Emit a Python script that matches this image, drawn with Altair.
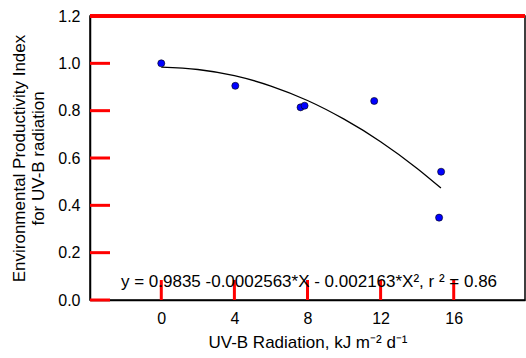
import altair as alt
import pandas as pd

uvb = [0.0, 4.05, 7.62, 7.84, 11.65, 15.31, 15.2]
epi = [1.0, 0.905, 0.814, 0.821, 0.841, 0.542, 0.348]
# fitted curve as it appears in the picture
curve_x = [0, 2, 4, 6, 8, 10, 12, 14, 15.3]
curve_y = [0.984, 0.974, 0.948, 0.904, 0.843, 0.764, 0.669, 0.556, 0.473]
x_ticks = [0, 4, 8, 12, 16]
y_ticks = [0.0, 0.2, 0.4, 0.6, 0.8, 1.0, 1.2]
equation = "y = 0.9835 -0.0002563*X - 0.002163*X\u00b2, r \u00b2 = 0.86"
x_title = "UV-B Radiation, kJ m\u207b\u00b2 d\u207b\u00b9"
y_title = ["Environmental Productivity Index", "for UV-B radiation"]

XDOM = [-3.9, 19.9]
YDOM = [0.0, 1.2]
FONT = "Liberation Sans"
W, H = 435, 284
TL = 6

df = pd.DataFrame({"x": uvb, "y": epi})
cf = pd.DataFrame({"x": curve_x, "y": curve_y})
xt = pd.DataFrame({"t": x_ticks})
yt = pd.DataFrame({"t": y_ticks})

xs = alt.Scale(domain=XDOM, nice=False, zero=False)
ys = alt.Scale(domain=YDOM, nice=False, zero=False)

points = alt.Chart(df).mark_circle(size=50, color="#0000ff", stroke="#000000", strokeWidth=0.6, opacity=1).encode(
    x=alt.X("x:Q", scale=xs, axis=alt.Axis(
        values=x_ticks, title=x_title, tickSize=0, labelPadding=10, labelFontSize=16,
        titleFontSize=17, titleFont=FONT, labelFont=FONT, titlePadding=8, titleFontWeight="normal",
        domainColor="black", domainWidth=1.5, labelColor="black", titleColor="black", grid=False)),
    y=alt.Y("y:Q", scale=ys, axis=alt.Axis(
        values=y_ticks, format=".1f", title=y_title, tickSize=0, labelPadding=10, labelFontSize=16,
        titleFontSize=17, titleFont=FONT, labelFont=FONT, titlePadding=10, titleFontWeight="normal",
        titleLineHeight=19, domainColor="black", domainWidth=1.5, labelColor="black", titleColor="black",
        grid=False)),
)

fit = alt.Chart(cf).mark_line(color="black", strokeWidth=1.3, interpolate="monotone").encode(
    x=alt.X("x:Q", scale=xs), y=alt.Y("y:Q", scale=ys))

rule_style = dict(color="red", strokeWidth=3)
bottom_ticks = alt.Chart(xt).mark_rule(**rule_style).encode(
    x=alt.X("t:Q", scale=xs), y=alt.value(H), y2=alt.value(H - 20))
left_ticks = alt.Chart(yt).mark_rule(**rule_style).encode(
    y=alt.Y("t:Q", scale=ys), x=alt.value(0), x2=alt.value(20))

frame_top = alt.Chart(xt).mark_rule(color="red", strokeWidth=3).encode(
    x=alt.value(0), x2=alt.value(W), y=alt.value(0))

eq = alt.Chart(pd.DataFrame({"label": [equation]})).mark_text(
    font=FONT, fontSize=17, color="black", align="center", baseline="alphabetic").encode(
    text="label:N", x=alt.value(219), y=alt.value(271))

chart = alt.layer(fit, points, bottom_ticks, left_ticks, frame_top, eq).properties(
    width=W, height=H,
    background="white",
    autosize=alt.AutoSizeParams(type="none"),
    padding={"left": 90, "top": 16, "right": 1, "bottom": 58},
).configure_view(stroke="#000000", strokeWidth=1.5)

chart.save("out.html", embed_options={"renderer": "svg", "actions": False})
